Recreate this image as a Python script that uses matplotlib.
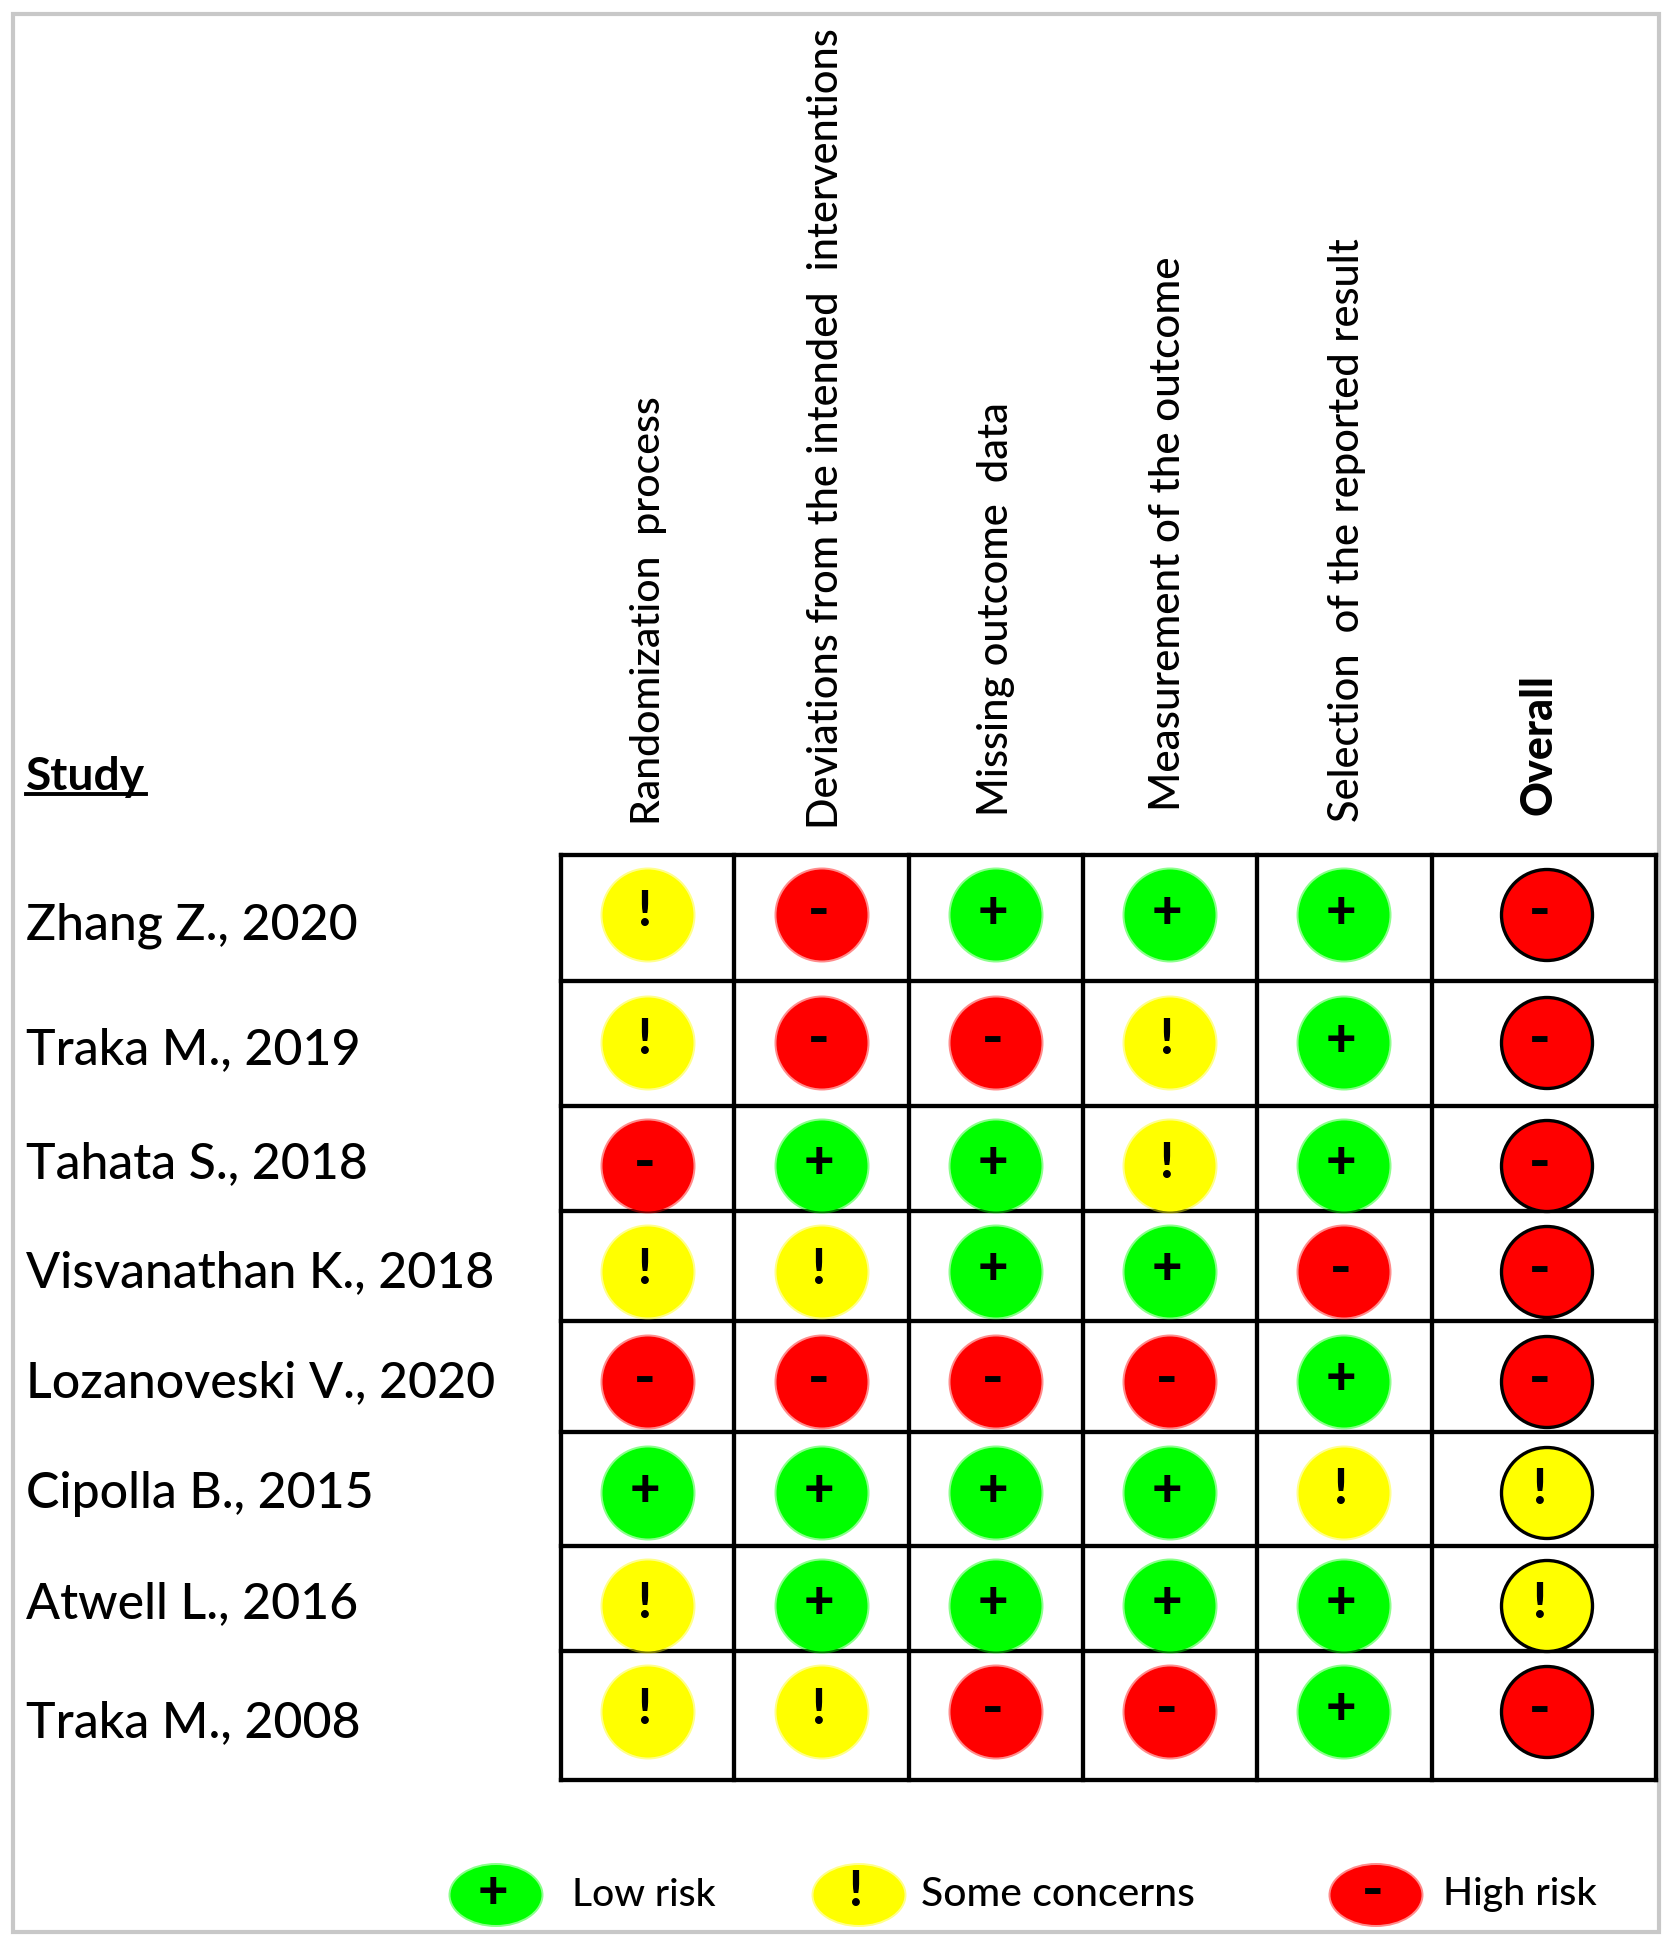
import matplotlib
matplotlib.use('Agg')
from matplotlib import pyplot as plt
from matplotlib.patches import Ellipse, Rectangle

studies = ["Zhang Z., 2020", "Traka M., 2019", "Tahata S., 2018", "Visvanathan K., 2018",
           "Lozanoveski V., 2020", "Cipolla B., 2015", "Atwell L., 2016", "Traka M., 2008"]
domains = ["Randomization  process", "Deviations from the intended  interventions",
           "Missing outcome  data", "Measurement of the outcome",
           "Selection  of the reported result", "Overall"]

# L low risk, S some concerns, H high risk
randomization = ["S", "S", "H", "S", "H", "L", "S", "S"]
deviations = ["H", "H", "L", "S", "H", "L", "L", "S"]
missing = ["L", "H", "L", "L", "H", "L", "L", "H"]
measurement = ["L", "S", "S", "L", "H", "L", "L", "H"]
selection = ["L", "L", "L", "H", "L", "S", "L", "L"]
overall = ["H", "H", "H", "H", "H", "S", "S", "H"]
judgements = [randomization, deviations, missing, measurement, selection, overall]

legend_keys = ["L", "S", "H"]
legend_labels = ["Low risk", "Some concerns", "High risk"]

COLORS = {"L": "#00ff00", "S": "#ffff00", "H": "#ff0000"}
SYMBOLS = {"L": "+", "S": "!", "H": "-"}
SYMBOL_SIZES = {"L": 38, "S": 35, "H": 42}

# layout, in pixels of the picture
col_edges = [561, 734, 909, 1083, 1257, 1432, 1656]
row_edges = [855, 981, 1106, 1211, 1321, 1432, 1546, 1651, 1780]
col_centers = [648, 822, 996, 1170, 1344, 1547]
row_centers = [915, 1043, 1166, 1272, 1382, 1493, 1606, 1712]
label_y = [926, 1050, 1164, 1273, 1383, 1494, 1604, 1723]
header_x = [649, 826, 996, 1168, 1347, 1539]
header_bottom = [825, 829, 816, 811, 822, 815]
header_size = [29.5, 29.9, 30, 30.4, 30, 31]
symbol_dx = [-3, -3, -3, -3, -3, -7]
legend_x = [496, 859, 1376]
legend_text_x = [572, 921, 1443]
legend_size = [28.1, 29.4, 28.4]

fig = plt.figure(figsize=(16.68, 19.48), dpi=100)
ax = fig.add_axes([0, 0, 1, 1])
ax.set_xlim(0, 1668)
ax.set_ylim(1948, 0)
ax.axis('off')
plt.rcParams['font.family'] = ['Lato', 'DejaVu Sans']


def draw_mark(x, y, w, h, key, edge=False, dx=-3):
    # soft halo like the resized image in the original
    if not edge:
        ax.add_patch(Ellipse((x, y), w + 4, h + 4, fc=COLORS[key], ec='none', alpha=0.45, zorder=2))
    ax.add_patch(Ellipse((x, y), w, h, fc=COLORS[key], ec='black' if edge else 'none',
                         lw=2.4 if edge else 0, zorder=3))
    ax.text(x + dx, y - 3, SYMBOLS[key], fontsize=SYMBOL_SIZES[key], fontweight='black',
            ha='center', va='center', zorder=4)


# outer frame
ax.add_patch(Rectangle((13, 14), 1646, 1918, fc='white', ec='#c8c8c8', lw=3, zorder=0))

ax.vlines(col_edges, row_edges[0], row_edges[-1], color='black', lw=3.1, capstyle='projecting', zorder=1)
ax.hlines(row_edges, col_edges[0], col_edges[-1], color='black', lw=3.1, capstyle='projecting', zorder=1)

for i, study in enumerate(studies):
    ax.text(26, label_y[i], study, fontsize=36, fontweight='medium', ha='left', va='center')

for j, domain in enumerate(domains):
    ax.text(header_x[j], header_bottom[j], domain, rotation=90, fontsize=header_size[j],
            fontweight='black' if domain == "Overall" else 'medium', ha='center', va='bottom')
    for i in range(len(studies)):
        draw_mark(col_centers[j], row_centers[i], 91, 91, judgements[j][i],
                  edge=domain == "Overall", dx=symbol_dx[j])

ax.text(26, 790, "Study", fontsize=33.2, fontweight='bold', ha='left', va='baseline')
ax.plot([26, 146], [794, 794], color='black', lw=2.8)

for k, key in enumerate(legend_keys):
    draw_mark(legend_x[k], 1895, 91, 60, key)
    ax.text(legend_text_x[k], 1895, legend_labels[k], fontsize=legend_size[k], fontweight='medium',
            ha='left', va='center')

fig.savefig('out.png', dpi=100)
